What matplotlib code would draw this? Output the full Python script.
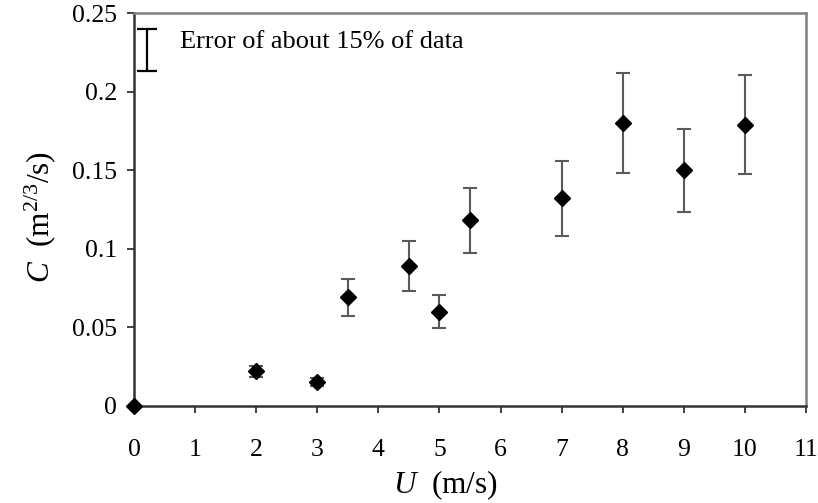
import matplotlib.pyplot as plt
import numpy as np

plt.rcParams['font.family'] = ['Liberation Serif', 'DejaVu Serif']
plt.rcParams['mathtext.fontset'] = 'custom'
plt.rcParams['mathtext.rm'] = 'Liberation Serif'
plt.rcParams['mathtext.it'] = 'Liberation Serif:italic'

# Data
wind_speed = [0, 2, 3, 3.5, 4.5, 5, 5.5, 7, 8, 9, 10]
c_value = [0.0, 0.022, 0.015, 0.069, 0.089, 0.060, 0.118, 0.132, 0.180, 0.150, 0.179]
c_error = [0.0, 0.0035, 0.0025, 0.012, 0.016, 0.0105, 0.021, 0.024, 0.032, 0.0265, 0.0315]

x_ticks = list(range(0, 12))
y_ticks = [0, 0.05, 0.1, 0.15, 0.2, 0.25]
y_tick_labels = ['0', '0.05', '0.1', '0.15', '0.2', '0.25']

fig = plt.figure(figsize=(8.18, 5.03), dpi=100)
ax = fig.add_axes([0.1638, 0.193, 0.8215, 0.781])

ax.errorbar(wind_speed, c_value, yerr=c_error, fmt='none', ecolor='#5a5a5a',
            elinewidth=1.5, capsize=5, capthick=1.5, clip_on=False)
ax.plot(wind_speed, c_value, linestyle='none', marker='D', markersize=8.5,
        color='black', clip_on=False, zorder=5)

# sample error bar in the corner
ax.errorbar([0.21], [0.2265], yerr=[0.0135], fmt='none', ecolor='black',
            elinewidth=1.6, capsize=7.5, capthick=1.6)
ax.text(0.75, 0.2315, 'Error of about 15% of data', fontsize=19,
        ha='left', va='center')

ax.set_xlim(0, 11)
ax.set_ylim(0, 0.25)
ax.set_xticks(x_ticks)
ax.set_yticks(y_ticks)
ax.set_yticklabels(y_tick_labels)
ax.tick_params(direction='out', length=5, width=1.3, labelsize=18.5,
               color='#333333')
ax.tick_params(axis='x', pad=19)
ax.tick_params(axis='y', pad=7)

for side in ['left', 'bottom']:
    ax.spines[side].set_color('#333333')
    ax.spines[side].set_linewidth(1.8)
for side in ['top', 'right']:
    ax.spines[side].set_color('#808080')
    ax.spines[side].set_linewidth(1.8)

ax.set_xlabel(r'$\mathit{U}$  (m/s)', fontsize=22.5, va='center')
ax.xaxis.set_label_coords(0.463, -0.203)
ax.set_ylabel(r'$\mathit{C}$  (m$^{2/3}$/s)', fontsize=22.5, va='center')
ax.yaxis.set_label_coords(-0.14, 0.482)

plt.savefig('out.png', dpi=100)
plt.close()
